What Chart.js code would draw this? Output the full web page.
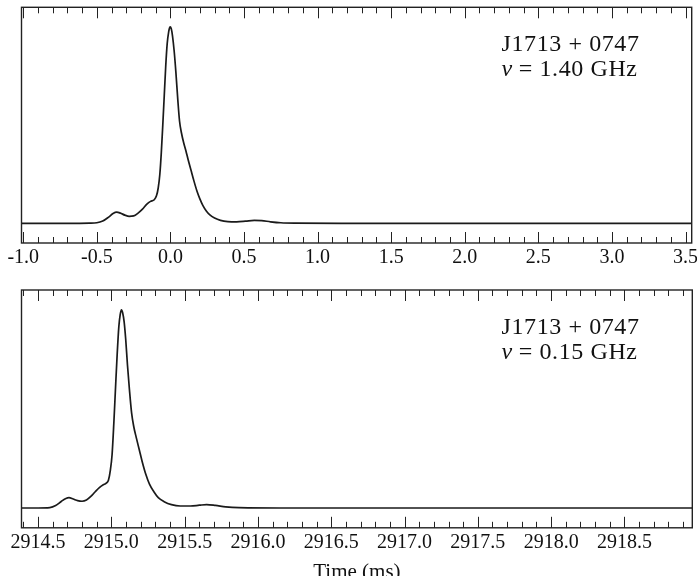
<!DOCTYPE html>
<html>
<head>
<meta charset="utf-8">
<script src="https://cdn.jsdelivr.net/npm/chart.js@4.4.1/dist/chart.umd.min.js"></script>
<style>
  html, body { margin: 0; padding: 0; background: #fff; overflow: hidden; }
  .panel { position: absolute; left: 0; width: 697px; }
  #top { top: 0; height: 273px; }
  #bottom { top: 270px; height: 319px; }
</style>
</head>
<body>
<div class="panel" id="top"><canvas id="c1"></canvas></div>
<div class="panel" id="bottom"><canvas id="c2"></canvas></div>
<script>
// pulse profiles, normalised so the peak is 1

// 1.40 GHz profile (time in ms relative to peak)
const timeHi = [-1.012, -0.70, -0.55, -0.50, -0.46, -0.42, -0.39, -0.365, -0.34, -0.31, -0.28, -0.25,
  -0.22, -0.19, -0.16, -0.135, -0.11, -0.095, -0.083, -0.072, -0.062, -0.052, -0.042, -0.032, -0.022,
  -0.012, -0.005, 0.0, 0.006, 0.014, 0.025, 0.037, 0.05, 0.062, 0.075, 0.09, 0.105, 0.12, 0.14, 0.16,
  0.18, 0.2, 0.22, 0.245, 0.27, 0.30, 0.34, 0.39, 0.45, 0.51, 0.57, 0.62, 0.68, 0.75, 0.85, 1.2, 2.0,
  3.0, 3.542];
const fluxHi = [0, 0, 0.001, 0.003, 0.012, 0.032, 0.05, 0.057, 0.052, 0.042, 0.036, 0.038,
  0.052, 0.072, 0.098, 0.112, 0.12, 0.14, 0.18, 0.25, 0.36, 0.5, 0.65, 0.8, 0.915,
  0.975, 0.997, 1.0, 0.99, 0.955, 0.88, 0.77, 0.63, 0.52, 0.46, 0.41, 0.37, 0.325, 0.27, 0.215,
  0.165, 0.125, 0.092, 0.062, 0.042, 0.027, 0.015, 0.009, 0.008, 0.011, 0.015, 0.014, 0.008, 0.003, 0.001, 0, 0,
  0, 0];

// 0.15 GHz profile (absolute time in ms)
const timeLo = [2914.387, 2914.5, 2914.58, 2914.62, 2914.66, 2914.69, 2914.711, 2914.74, 2914.77, 2914.80,
  2914.83, 2914.86, 2914.89, 2914.92, 2914.945, 2914.965, 2914.98, 2914.993, 2915.005, 2915.017, 2915.028,
  2915.04, 2915.051, 2915.06, 2915.069, 2915.077, 2915.087, 2915.098, 2915.11, 2915.123, 2915.138, 2915.153,
  2915.17, 2915.19, 2915.21, 2915.235, 2915.26, 2915.29, 2915.32, 2915.36, 2915.41, 2915.47, 2915.54, 2915.6,
  2915.65, 2915.71, 2915.78, 2915.87, 2916.2, 2917.0, 2918.0, 2918.963];
const fluxLo = [0, 0, 0.002, 0.012, 0.034, 0.048, 0.052, 0.045, 0.037, 0.034,
  0.04, 0.058, 0.082, 0.104, 0.117, 0.125, 0.14, 0.19, 0.27, 0.43, 0.6,
  0.78, 0.915, 0.975, 1.0, 0.985, 0.94, 0.85, 0.72, 0.6, 0.48, 0.41,
  0.355, 0.295, 0.235, 0.17, 0.12, 0.082, 0.052, 0.032, 0.017, 0.01, 0.01, 0.014,
  0.017, 0.013, 0.006, 0.002, 0, 0, 0, 0];

// labelled x ticks
const ticksHi = [-1.0, -0.5, 0.0, 0.5, 1.0, 1.5, 2.0, 2.5, 3.0, 3.5];
const ticksLo = [2914.5, 2915.0, 2915.5, 2916.0, 2916.5, 2917.0, 2917.5, 2918.0, 2918.5];

const textHi = ["J1713 + 0747", "= 1.40 GHz"];
const textLo = ["J1713 + 0747", "= 0.15 GHz"];

const serif = '"Liberation Serif", "Times New Roman", serif';

// box frame, inward minor/major ticks and the source label
const frameTicks = {
  id: 'frameTicks',
  afterDatasetsDraw(chart, args, opts) {
    const { ctx, chartArea: a } = chart;
    const x = chart.scales.x;
    ctx.save();
    ctx.strokeStyle = '#222';
    ctx.lineWidth = 1;
    const start = Math.ceil(x.min * 10 - 1e-6);
    const end = Math.floor(x.max * 10 + 1e-6);
    for (let k = start; k <= end; k++) {
      const px = Math.round(x.getPixelForValue(k / 10)) + 0.5;
      const len = (k % 5 === 0) ? 11 : 6;
      ctx.beginPath();
      ctx.moveTo(px, a.bottom); ctx.lineTo(px, a.bottom - len);
      ctx.moveTo(px, a.top); ctx.lineTo(px, a.top + len);
      ctx.stroke();
    }
    ctx.lineWidth = 1.4;
    ctx.strokeRect(a.left, a.top, a.right - a.left, a.bottom - a.top);

    // label: first line upright, second line starts with an italic nu
    ctx.fillStyle = '#111';
    ctx.textBaseline = 'alphabetic';
    ctx.letterSpacing = '0.6px';
    const x0 = a.left + 480;
    const y0 = a.top + 44;
    ctx.font = '24px ' + serif;
    ctx.fillText(opts.lines[0], x0, y0);
    ctx.font = 'italic 24px ' + serif;
    ctx.fillText('\u03bd', x0, y0 + 24.5);
    const nuW = ctx.measureText('\u03bd').width;
    ctx.font = '24px ' + serif;
    ctx.fillText(opts.lines[1], x0 + nuW + 6, y0 + 24.5);
    ctx.restore();
  }
};

function makeChart(id, xs, ys, xmin, xmax, majors, lines, pad, title) {
  const points = xs.map((t, i) => ({ x: t, y: ys[i] }));
  return new Chart(document.getElementById(id), {
    type: 'line',
    data: {
      datasets: [{
        data: points,
        borderColor: '#1a1a1a',
        borderWidth: 1.7,
        pointRadius: 0,
        fill: false,
        cubicInterpolationMode: 'monotone'
      }]
    },
    options: {
      responsive: true,
      maintainAspectRatio: false,
      animation: false,
      layout: { autoPadding: false, padding: pad },
      plugins: {
        legend: { display: false },
        tooltip: { enabled: false },
        frameTicks: { lines: lines }
      },
      scales: {
        x: {
          type: 'linear',
          min: xmin,
          max: xmax,
          afterBuildTicks: s => { s.ticks = majors.map(v => ({ value: v })); },
          // let the end labels spill over the edge like the original
          afterFit: s => { s.paddingLeft = 0; s.paddingRight = 0; },
          grid: { display: false, drawTicks: false },
          border: { display: false },
          ticks: {
            color: '#111',
            font: { family: serif, size: 20 },
            padding: 3,
            maxRotation: 0,
            autoSkip: false,
            callback: v => Number(v).toFixed(1)
          },
          title: title ? {
            display: true,
            text: title,
            color: '#111',
            font: { family: serif, size: 21 },
            padding: { top: 2, bottom: 4 }
          } : { display: false }
        },
        y: { display: false, min: -0.1, max: 1.1 }
      }
    },
    plugins: [frameTicks]
  });
}

makeChart('c1', timeHi, fluxHi, -1.012, 3.542, ticksHi, textHi,
  { left: 21.5, right: 5.3, top: 7.3, bottom: 0 }, null);
makeChart('c2', timeLo, fluxLo, 2914.387, 2918.963, ticksLo, textLo,
  { left: 21.5, right: 4.7, top: 20, bottom: 0 }, 'Time (ms)');
</script>
</body>
</html>
